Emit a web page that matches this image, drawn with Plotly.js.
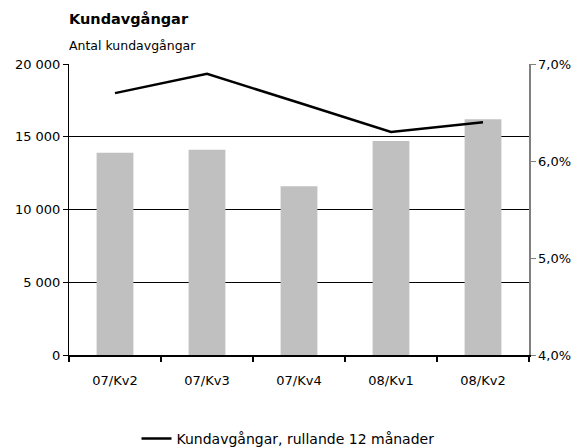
<!DOCTYPE html>
<html><head><meta charset="utf-8">
<script src="https://cdn.plot.ly/plotly-3.0.1.min.js"></script>
<style>body{margin:0;background:#fff}#c{width:576px;height:447px}</style>
</head><body><div id="c"></div>
<script>
const categories = ["07/Kv2","07/Kv3","07/Kv4","08/Kv1","08/Kv2"];
const kundavgangar = [13900, 14100, 11600, 14700, 16200];
const rullande12 = [6.7, 6.9, 6.6, 6.3, 6.4];
const leftTicks = [0, 5000, 10000, 15000, 20000];
const leftTickText = ["0", "5 000", "10 000", "15 000", "20 000"];
const rightTicks = [4, 5, 6, 7];
const rightTickText = ["4,0%", "5,0%", "6,0%", "7,0%"];

const F = "'DejaVu Sans', sans-serif";
const traces = [
  {type:"bar", x:categories, y:kundavgangar, marker:{color:"#c0c0c0"}, showlegend:false, hoverinfo:"skip"},
  {type:"scatter", mode:"lines", x:categories, y:rullande12, yaxis:"y2", line:{color:"#000", width:2.5},
   name:"Kundavgångar, rullande 12 månader"}
];
const layout = {
  width:576, height:447,
  margin:{l:69, r:47, t:64, b:92},
  paper_bgcolor:"#fff", plot_bgcolor:"#fff",
  font:{family:F, size:12.5, color:"#000"},
  bargap:0.6,
  title:{text:"<b>Kundavgångar</b>", x:69/576, xref:"container", xanchor:"left", y:1-19/447, yref:"container", yanchor:"middle", font:{family:F, size:14.5, color:"#000"}},
  annotations:[{text:"Antal kundavgångar", xref:"paper", yref:"paper", x:-2/460, xanchor:"left", y:1+(64-45)/291, yanchor:"middle", showarrow:false, font:{family:F, size:12.5, color:"#000"}}],
  xaxis:{type:"category", showline:true, linecolor:"#000", linewidth:2, ticks:"outside", tickson:"boundaries", ticklen:5, tickwidth:2, tickcolor:"#000", showgrid:false, ticklabelstandoff:12, tickfont:{family:F, size:13}, fixedrange:true},
  yaxis:{range:[0,20000], tickvals:leftTicks, ticktext:leftTickText, showline:true, linecolor:"#000", linewidth:1, ticks:"outside", ticklen:5, tickcolor:"#000", showgrid:true, gridcolor:"#000", gridwidth:1, zeroline:false, tickfont:{family:F, size:13}, fixedrange:true},
  yaxis2:{overlaying:"y", side:"right", range:[4,7], tickvals:rightTicks, ticktext:rightTickText, showline:true, linecolor:"#808080", linewidth:1.5, ticks:"outside", ticklen:5, tickcolor:"#808080", showgrid:false, zeroline:false, tickfont:{family:F, size:13}, fixedrange:true},
  legend:{orientation:"h", x:0.5, xanchor:"center", xref:"container", y:1-439/447, yref:"container", yanchor:"middle", font:{family:F, size:14}, itemwidth:30},
  showlegend:true
};
Plotly.newPlot("c", traces, layout, {displayModeBar:false, staticPlot:true});
</script></body></html>
